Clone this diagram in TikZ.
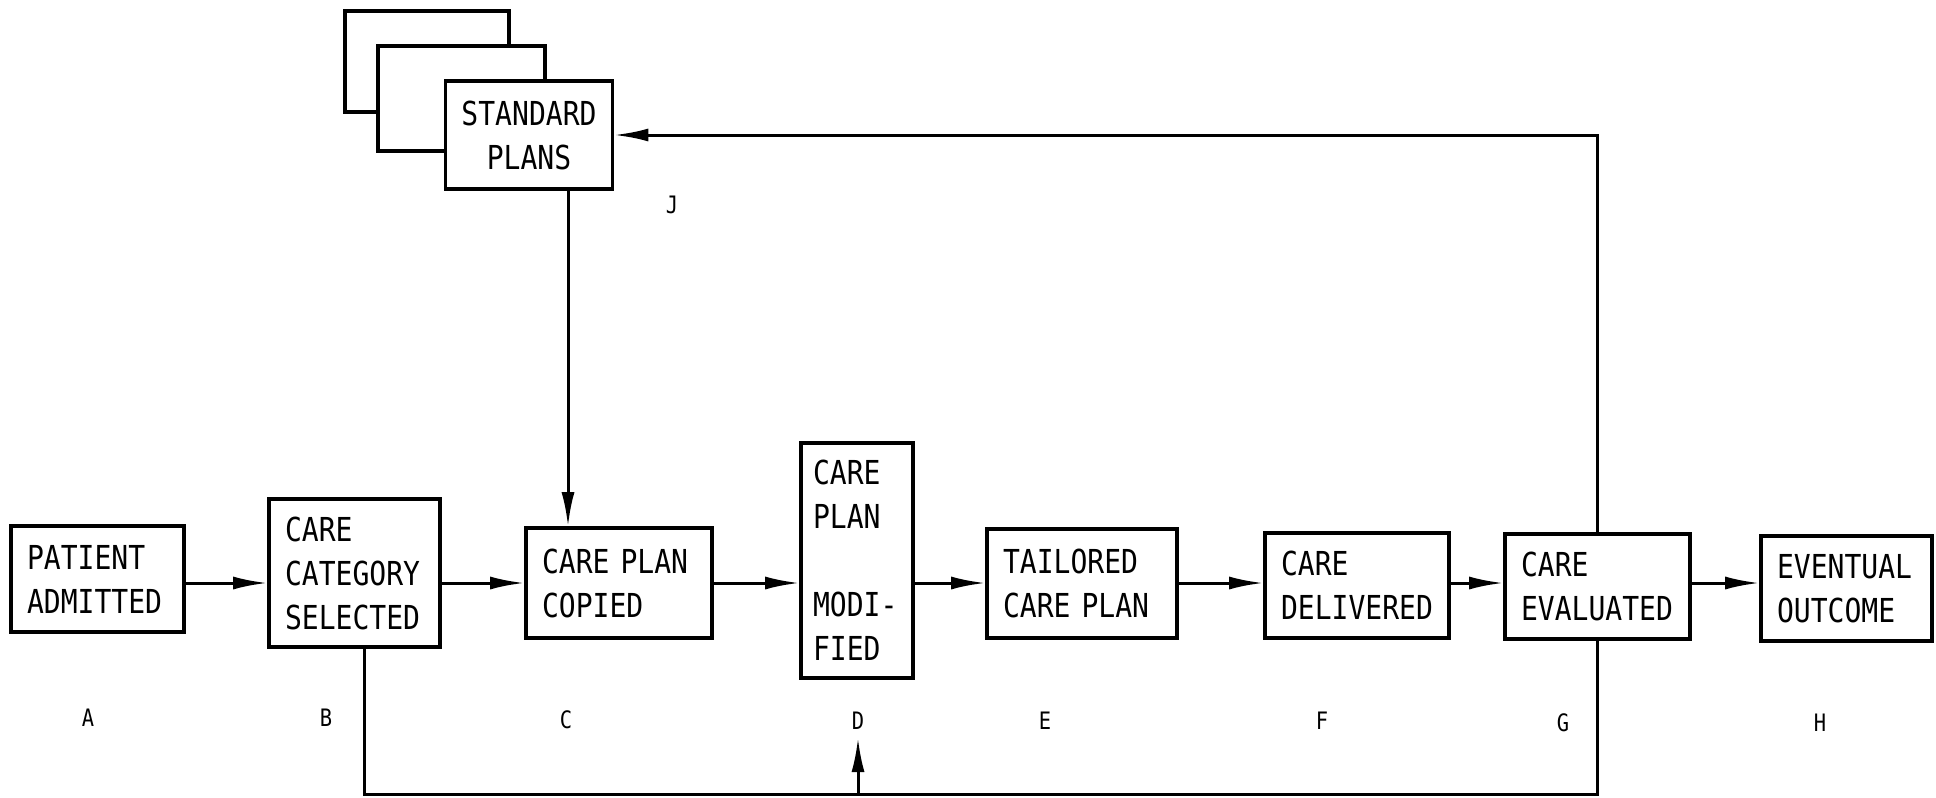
\documentclass[tikz,border=0pt]{standalone}
\usepackage{fontspec}
\newfontfamily\diagfont[FakeStretch=0.85]{DejaVu Sans Mono}
\usepackage{tikz}
\usetikzlibrary{arrows.meta}

\begin{document}
\begin{tikzpicture}[x=0.5pt, y=-0.5pt,
  box/.style={draw, fill=white, line width=1.8pt, inner xsep=8pt, inner ysep=0pt, align=left, font=\diagfont\fontsize{16.5pt}{22pt}\selectfont},
  tag/.style={font=\diagfont\fontsize{12pt}{14pt}\selectfont},
  link/.style={line width=1.5pt},
  flow/.style={line width=1.5pt, -{Latex[length=17pt,width=6.5pt]}}]
\fill[white] (0,0) rectangle (1936,797);
\useasboundingbox (0,0) rectangle (1936,797);
% stack of standard plans
\node[box, minimum width=82pt, minimum height=50.5pt] (back1) at (427,61.5) {};
\node[box, minimum width=83.5pt, minimum height=52.5pt] (back2) at (461.5,98.5) {};
\node[box, align=center, minimum width=83pt, minimum height=54pt] (plans) at (529,135) {STANDARD\\PLANS};
% main row
\node[box, text width=70.5pt, minimum height=53pt] (admit) at (97.5,579) {PATIENT\\ADMITTED};
\node[box, text width=69.5pt, minimum height=74pt] (category) at (354.5,573) {CARE\\CATEGORY\\SELECTED};
\node[box, text width=77pt, minimum height=55pt] (copied) at (619,583) {CARE PLAN\\COPIED};
\node[box, text width=44pt, inner xsep=6pt, minimum height=117.5pt] (modified) at (857,560.5) {CARE\\PLAN\\[22pt]MODI-\\FIED};
\node[box, text width=79pt, minimum height=54.5pt] (tailored) at (1082,583.5) {TAILORED\\CARE PLAN};
\node[box, text width=76pt, minimum height=52.5pt] (delivered) at (1357,585.5) {CARE\\DELIVERED};
\node[box, text width=76.5pt, minimum height=52.5pt] (evaluated) at (1597.5,586.5) {CARE\\EVALUATED};
\node[box, text width=69.5pt, minimum height=52.5pt] (outcome) at (1846.5,588.5) {EVENTUAL\\OUTCOME};
% letters
\node[tag] (tagA) at (88,718) {A};
\node[tag] (tagB) at (326,718) {B};
\node[tag] (tagC) at (566,720) {C};
\node[tag] (tagD) at (858,721) {D};
\node[tag] (tagE) at (1045,721) {E};
\node[tag] (tagF) at (1322,721) {F};
\node[tag] (tagG) at (1563,723) {G};
\node[tag] (tagH) at (1820,723) {H};
\node[tag] (tagJ) at (672,205) {J};
% connectors
\coordinate (row) at (0,583);
\coordinate (drop) at (568,0);
\coordinate (loop) at (364,794);
\coordinate (modin) at (858,738);
\foreach \a/\b in {admit/category, category/copied, copied/modified, modified/tailored, tailored/delivered, delivered/evaluated, evaluated/outcome}
  \draw[flow] (\a.east |- row) -- (\b.west |- row);
\draw[flow] (plans.south -| drop) -- (copied.north -| drop);
\draw[flow] (evaluated.north) |- (plans.east);
\draw[link] (category.south -| loop) -- (loop) -| (evaluated.south);
\draw[flow] (modin |- loop) -- (modin);
\end{tikzpicture}
\end{document}
